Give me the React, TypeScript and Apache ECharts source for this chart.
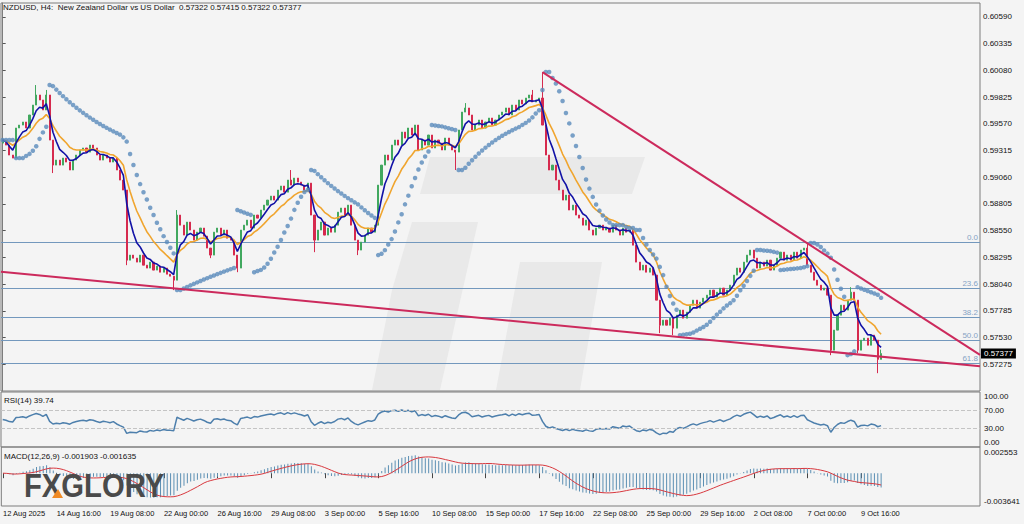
import { useEffect, useRef } from "react";
import * as echarts from "echarts";

// ---- data ----
const closes: number[] = [
  0.59415, 0.59367, 0.59272, 0.59243, 0.5953, 0.59558, 0.59587, 0.5953,
  0.59654, 0.59749, 0.59845, 0.59797, 0.59702, 0.59845,
  0.59415, 0.59176, 0.59224,
  0.59176, 0.59243, 0.59205, 0.59129, 0.59224, 0.59272,
  0.5932, 0.59339, 0.593, 0.59367, 0.59339,
  0.59272, 0.59224, 0.59272, 0.59243, 0.59205, 0.59243,
  0.59129, 0.59033, 0.58938,
  0.58269,
  0.58317, 0.58288, 0.5825, 0.58317, 0.58221, 0.58193, 0.5825, 0.58174, 0.58212, 0.58154, 0.58193, 0.58135, 0.58116,
  0.58078,
  0.58699,
  0.58603, 0.58508, 0.58632, 0.58556, 0.5846, 0.58536, 0.58575, 0.58498,
  0.58384, 0.58317,
  0.58536, 0.58575, 0.58508, 0.58556, 0.58479, 0.5846,
  0.58317, 0.58193,
  0.58556,
  0.58603, 0.58651, 0.58575, 0.58699, 0.5867,
  0.58747, 0.58794, 0.58842, 0.5888, 0.58842, 0.58938, 0.58976, 0.58918, 0.59033, 0.58985, 0.59052, 0.59014,
  0.58985, 0.58938, 0.59004,
  0.58699, 0.5846,
  0.58556, 0.58632, 0.58508, 0.58575, 0.58536, 0.58603,
  0.58727, 0.58766, 0.58699, 0.58794,
  0.58603, 0.5846, 0.58365, 0.58441,
  0.58508, 0.58575, 0.58536, 0.58603,
  0.58985,
  0.59176, 0.59272, 0.59224, 0.59367,
  0.59415, 0.59367, 0.59491, 0.59434, 0.5953, 0.59463, 0.59558,
  0.5932,
  0.59415, 0.59367, 0.59463, 0.59339, 0.59415, 0.59386, 0.5932, 0.59434, 0.59367, 0.5932,
  0.593,
  0.59511, 0.59682, 0.59721,
  0.59654, 0.59511,
  0.59558, 0.59606, 0.5953, 0.59587, 0.59625, 0.59558, 0.59606, 0.59654,
  0.59682, 0.59721, 0.59654, 0.59749, 0.59702, 0.59797, 0.59759, 0.59816, 0.59845, 0.59778,
  0.59797, 0.59816,
  0.59558,
  0.59272, 0.59129, 0.59176, 0.59033, 0.58938,
  0.58842, 0.5889, 0.58747, 0.58794, 0.58699,
  0.5867, 0.58603, 0.58651, 0.58556, 0.58508, 0.58575,
  0.58603, 0.58556, 0.58575, 0.58536, 0.58603, 0.58556, 0.58508, 0.58575, 0.58536, 0.58556,
  0.58412, 0.5825,
  0.58174, 0.58221, 0.58154, 0.58193,
  0.58126, 0.57887, 0.57648,
  0.57696, 0.57648, 0.57715, 0.5762,
  0.57744, 0.57792, 0.57715, 0.57772,
  0.57839, 0.57887, 0.57811, 0.57868, 0.57906,
  0.57935, 0.57983, 0.57916, 0.57963, 0.58002, 0.57935, 0.57983, 0.5803,
  0.58126, 0.58193, 0.58154, 0.5825,
  0.58317, 0.58365, 0.58288,
  0.58193,
  0.5825, 0.58212, 0.58269, 0.58174, 0.58221,
  0.58288, 0.58345, 0.58269,
  0.58317, 0.58269, 0.58345, 0.58288, 0.58365, 0.58384,
  0.58221,
  0.58154, 0.58078, 0.5803, 0.57983, 0.58002, 0.57935,
  0.5741,
  0.57601, 0.57744,
  0.57839, 0.57792, 0.57887,
  0.57963, 0.57887,
  0.5741,
  0.57505, 0.57524, 0.57457, 0.57553, 0.57505,
  0.57322,
  0.57377,
];
const firstOpen = 0.59386;
const highWicks: [number, number][] = [
  [10, 0.5994], [13, 0.59893], [52, 0.58747], [86, 0.59129], [138, 0.59768],
  [158, 0.59893], [161, 0.60064], [240, 0.58432], [253, 0.58011], [262, 0.57415],
];
const lowWicks: [number, number][] = [
  [15, 0.591], [37, 0.58221], [51, 0.57983], [62, 0.58288], [70, 0.58154],
  [93, 0.58345], [106, 0.58317], [135, 0.59129], [196, 0.57572], [200, 0.57553],
  [247, 0.57362], [255, 0.57381], [261, 0.5719],
];

const slotCount = 292;
const tickEvery = 16;
const tickLabels = [
  "12 Aug 2025", "14 Aug 16:00", "19 Aug 08:00", "22 Aug 00:00", "26 Aug 16:00",
  "29 Aug 08:00", "3 Sep 00:00", "5 Sep 16:00", "10 Sep 08:00", "15 Sep 00:00",
  "17 Sep 16:00", "22 Sep 08:00", "25 Sep 00:00", "29 Sep 16:00", "2 Oct 08:00",
  "7 Oct 00:00", "9 Oct 16:00",
];
const priceMin = 0.5702;
const priceMax = 0.60723;
const priceStep = 0.00255;
const fibLevels = [0.58438, 0.57997, 0.57724, 0.57504, 0.57283];
const fibNames = ["0.0", "23.6", "38.2", "50.0", "61.8"];
const upperTrend: [number, number][] = [[161, 0.60064], [291.5, 0.57364]];
const lowerTrend: [number, number][] = [[-0.5, 0.58159], [291.5, 0.57257]];
const rsiGuides = [100, 70, 30, 0];
const macdScale = [0.002553, -0.003641];
const lastPrice = 0.57377;
const headerText = "NZDUSD, H4:  New Zealand Dollar vs US Dollar  0.57322 0.57415 0.57322 0.57377";
const rsiText = "RSI(14) 39.74";
const macdText = "MACD(12,26,9) -0.001903 -0.001635";

// ---- indicator helpers ----
function ema(src: number[], n: number): number[] {
  const k = 2 / (n + 1);
  const out: number[] = [];
  let e = src[0];
  src.forEach((v, i) => {
    e = i === 0 ? v : v * k + e * (1 - k);
    out.push(e);
  });
  return out;
}
function sma(src: number[], n: number): number[] {
  return src.map((_, i) => {
    const s = src.slice(Math.max(0, i - n + 1), i + 1);
    return s.reduce((a, b) => a + b, 0) / s.length;
  });
}
function rsi(src: number[], n: number): number[] {
  const ch = src.map((v, i) => (i === 0 ? 0 : v - src[i - 1]));
  const first = ch.slice(1, n + 1);
  let ag = first.reduce((a, c) => a + Math.max(c, 0), 0) / n;
  let al = first.reduce((a, c) => a + Math.max(-c, 0), 0) / n;
  return ch.map((c, i) => {
    if (i > 0) {
      ag = (ag * (n - 1) + Math.max(c, 0)) / n;
      al = (al * (n - 1) + Math.max(-c, 0)) / n;
    }
    return al === 0 ? 100 : 100 - 100 / (1 + ag / al);
  });
}
function parabolicSar(h: number[], l: number[], step: number, maxStep: number): number[] {
  const out: number[] = [];
  let up = false;
  let af = step;
  let ep = l[0];
  let s = h[0];
  out.push(s);
  for (let i = 1; i < h.length; i++) {
    s = s + af * (ep - s);
    if (up) {
      s = Math.min(s, l[i - 1], l[Math.max(0, i - 2)]);
      if (l[i] < s) { up = false; s = ep; ep = l[i]; af = step; }
      else if (h[i] > ep) { ep = h[i]; af = Math.min(af + step, maxStep); }
    } else {
      s = Math.max(s, h[i - 1], h[Math.max(0, i - 2)]);
      if (h[i] > s) { up = true; s = ep; ep = h[i]; af = step; }
      else if (l[i] < ep) { ep = l[i]; af = Math.min(af + step, maxStep); }
    }
    out.push(s);
  }
  return out;
}

const FONT = "Liberation Sans, Arial, sans-serif";

export default function App() {
  const ref = useRef<HTMLDivElement>(null);
  useEffect(() => {
    if (!ref.current) return;
    const chart = echarts.init(ref.current, null, { renderer: "svg" });

    const opens = closes.map((_, i) => (i === 0 ? firstOpen : closes[i - 1]));
    const highs = closes.map((c, i) => Math.max(c, opens[i]));
    const lows = closes.map((c, i) => Math.min(c, opens[i]));
    highWicks.forEach(([i, v]) => (highs[i] = Math.max(highs[i], v)));
    lowWicks.forEach(([i, v]) => (lows[i] = Math.min(lows[i], v)));
    const candles = closes.map((c, i) => [opens[i], c, lows[i], highs[i]]);

    const maFast = ema(closes, 5);
    const maSlow = ema(closes, 12);
    const sarVals = parabolicSar(highs, lows, 0.02, 0.2);
    const rsiVals = rsi(closes, 14);
    const e12 = ema(closes, 12);
    const e26 = ema(closes, 26);
    const macdMain = closes.map((_, i) => e12[i] - e26[i]);
    const macdSignal = sma(macdMain, 9);

    const cats = Array.from({ length: slotCount }, (_, i) => String(i));
    const showTick = (i: number) => i % tickEvery === 0 && i / tickEvery < tickLabels.length;

    const hiddenCat = (gridIndex: number) => ({
      type: "category", gridIndex, data: cats, boundaryGap: true,
      axisLine: { show: false }, axisTick: { show: false }, axisLabel: { show: false },
    });

    const grids = [
      { left: 1, top: 3, width: 979, height: 388 },
      { left: 1, top: 392, width: 979, height: 55 },
      { left: 1, top: 447, width: 979, height: 59 },
    ].map((g) => ({ ...g, show: true, borderColor: "#7d7d7d", borderWidth: 1, backgroundColor: "transparent" }));

    const option: any = {
      animation: false,
      backgroundColor: "#f4f4f4",
      textStyle: { fontFamily: FONT },
      grid: grids,
      xAxis: [
        hiddenCat(0),
        { type: "value", gridIndex: 0, min: -0.5, max: 291.5, show: false },
        hiddenCat(1),
        {
          type: "category", gridIndex: 2, data: cats, boundaryGap: true,
          axisLine: { show: false },
          axisTick: { show: true, alignWithLabel: true, interval: (i: number) => showTick(i), length: 5, lineStyle: { color: "#444" } },
          axisLabel: {
            interval: (i: number) => showTick(i),
            formatter: (_v: string, i: number) => (showTick(i) ? tickLabels[i / tickEvery] : ""),
            align: "left", margin: 3, fontSize: 7.5, color: "#111", fontFamily: FONT,
          },
        },
      ],
      yAxis: [
        {
          type: "value", gridIndex: 0, position: "right", min: priceMin, max: priceMax, interval: priceStep,
          splitLine: { show: false },
          axisLine: { show: true, lineStyle: { color: "#7d7d7d" } },
          axisTick: { show: true, length: 3, lineStyle: { color: "#555" } },
          axisLabel: { formatter: (v: number) => v.toFixed(5), showMinLabel: false, showMaxLabel: false, fontSize: 8, color: "#111", margin: 3, fontFamily: FONT },
        },
        { type: "value", gridIndex: 1, min: -10, max: 110, show: false, splitLine: { show: false } },
        { type: "value", gridIndex: 2, min: -0.004147, max: 0.003311, show: false, splitLine: { show: false } },
      ],
      series: [
        {
          type: "candlestick", xAxisIndex: 0, yAxisIndex: 0, data: candles, barWidth: 1.6,
          itemStyle: { color: "#41a85f", color0: "#d62a4e", borderColor: "#41a85f", borderColor0: "#d62a4e", borderWidth: 1 },
        },
        {
          type: "line", xAxisIndex: 0, yAxisIndex: 0, data: maSlow, symbol: "none", lineStyle: { color: "#f0a52e", width: 1.6 }, z: 3,
          markLine: {
            silent: true, symbol: ["none", "none"], precision: 6, z: 1,
            data: [
              ...fibLevels.map((v, i) => ({
                yAxis: v, name: fibNames[i],
                lineStyle: { color: "#7398bd", width: 1, type: "solid" },
                label: { show: true, position: "insideEndTop", formatter: "{b}", color: "#86a3c4", fontSize: 8, distance: [2, 1], fontFamily: FONT },
              })),
              {
                yAxis: lastPrice, name: "last",
                lineStyle: { color: "transparent", width: 0 },
                label: { show: true, position: "end", formatter: () => lastPrice.toFixed(5), color: "#fff", backgroundColor: "#000", padding: [1, 3, 1, 3], distance: 1, fontSize: 8, fontFamily: FONT },
              },
            ],
          },
        },
        { type: "line", xAxisIndex: 0, yAxisIndex: 0, data: maFast, symbol: "none", lineStyle: { color: "#1212a6", width: 1.6 }, z: 4 },
        { type: "scatter", xAxisIndex: 0, yAxisIndex: 0, data: sarVals.map((v, i) => [i, v]), symbolSize: 4.5, itemStyle: { color: "#5a8bbb" }, z: 4 },
        { type: "line", xAxisIndex: 1, yAxisIndex: 0, data: upperTrend, symbol: "none", lineStyle: { color: "#cc2a5c", width: 2 }, z: 5 },
        { type: "line", xAxisIndex: 1, yAxisIndex: 0, data: lowerTrend, symbol: "none", lineStyle: { color: "#cc2a5c", width: 2 }, z: 5 },
        {
          type: "line", xAxisIndex: 2, yAxisIndex: 1, data: rsiVals, symbol: "none", lineStyle: { color: "#4d7fac", width: 1.5 },
          markLine: {
            silent: true, symbol: ["none", "none"], precision: 2,
            data: rsiGuides.map((v) => ({
              yAxis: v,
              lineStyle: v === 70 || v === 30 ? { color: "#c4c4c4", width: 1, type: "dashed" } : { color: "transparent", width: 0 },
              label: { show: true, position: "end", formatter: () => v.toFixed(2), color: "#111", fontSize: 8, distance: 4, fontFamily: FONT },
            })),
          },
        },
        { type: "bar", xAxisIndex: 3, yAxisIndex: 2, data: macdMain, barWidth: 1, itemStyle: { color: "#5b8fb3" } },
        {
          type: "line", xAxisIndex: 3, yAxisIndex: 2, data: macdSignal, symbol: "none", lineStyle: { color: "#d8383e", width: 1 },
          markLine: {
            silent: true, symbol: ["none", "none"], precision: 7,
            data: macdScale.map((v) => ({
              yAxis: v, lineStyle: { color: "transparent", width: 0 },
              label: { show: true, position: "end", formatter: () => v.toFixed(6), color: "#111", fontSize: 8, distance: 4, fontFamily: FONT },
            })),
          },
        },
      ],
      graphic: [
        { type: "polygon", silent: true, z: -1, shape: { points: [[430, 157], [645, 157], [632, 194], [420, 194]] }, style: { fill: "#e9e9e9" } },
        { type: "polygon", silent: true, z: -1, shape: { points: [[412, 222], [478, 222], [440, 390], [372, 390], [392, 290]] }, style: { fill: "#e9e9e9" } },
        { type: "polygon", silent: true, z: -1, shape: { points: [[520, 262], [602, 262], [580, 390], [496, 390]] }, style: { fill: "#e9e9e9" } },
        { type: "text", x: 3, y: 3, z: 100, style: { text: headerText, fill: "#111", fontSize: 8, fontFamily: FONT, verticalAlign: "top" } },
        { type: "text", x: 4, y: 396, z: 100, style: { text: rsiText, fill: "#111", fontSize: 8, fontFamily: FONT, verticalAlign: "top" } },
        { type: "text", x: 4, y: 452, z: 100, style: { text: macdText, fill: "#111", fontSize: 8, fontFamily: FONT, verticalAlign: "top" } },
        { type: "text", x: 24, y: 468, z: 100, scaleX: 0.86, style: { text: "FXGLORY", fill: "#4a4a4a", fontSize: 34, fontWeight: "bold", fontFamily: FONT, verticalAlign: "top" } },
        { type: "polygon", z: 101, shape: { points: [[52, 498], [58, 489], [63, 498]] }, style: { fill: "#f08a24" } },
      ],
    };
    chart.setOption(option);
    return () => chart.dispose();
  }, []);
  return (
    <div style={{ position: "fixed", left: 0, top: 0, width: 1024, height: 524, background: "#f4f4f4" }}>
      <div ref={ref} style={{ width: 1024, height: 524 }} />
    </div>
  );
}
